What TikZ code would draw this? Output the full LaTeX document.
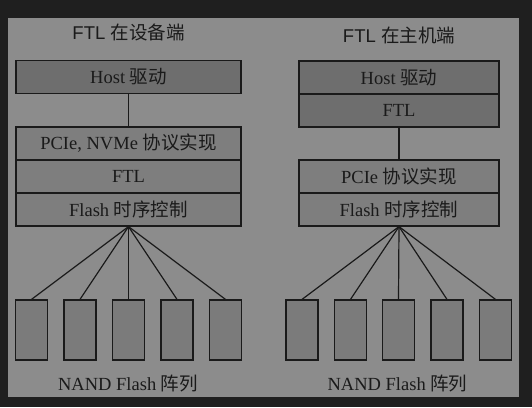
\documentclass[tikz,border=0pt]{standalone}
\usepackage{fontspec}
\setmainfont{Liberation Serif}
\newfontfamily\titlefont{Liberation Sans}
\newfontfamily\cjk{Noto Sans CJK SC}
\definecolor{bgdark}{HTML}{1F1F1F}
\definecolor{panel}{HTML}{8C8C8C}
\definecolor{boxfill}{HTML}{7E7E7E}
\definecolor{hostfill}{HTML}{6E6E6E}
\definecolor{chipfill}{HTML}{7B7B7B}
\definecolor{ink}{HTML}{1A1A1A}
\begin{document}
\begin{tikzpicture}[x=1pt,y=-1pt,
  txt/.style={font=\fontsize{18.5}{21}\selectfont, text=ink},
  layer/.style={draw=ink, line width=1.2pt, fill=boxfill, inner sep=0pt, minimum height=33pt, txt},
  hostlayer/.style={layer, fill=hostfill},
  chip/.style={draw=ink, line width=1.2pt, fill=chipfill, minimum width=32pt, minimum height=60pt, inner sep=0pt},
  conn/.style={draw=ink, line width=1.2pt},
  ttl/.style={font=\titlefont\fontsize{18.5}{21}\selectfont, text=ink, inner sep=0pt}]
\useasboundingbox (0,0) rectangle (532,407);
\fill[bgdark] (0,0) rectangle (532,407);
\fill[panel] (8,18) rectangle (519,397);

% titles
\node[ttl] (tl) at (128.5,32) {FTL {\cjk 在设备端}};
\node[ttl] (tr) at (399,35) {FTL {\cjk 在主机端}};

% left stack
\node[hostlayer, minimum width=225pt] (lhost) at (128.5,77) {Host {\cjk 驱动}};
\node[layer, minimum width=225pt] (lpcie) at (128.5,143.5) {PCIe, NVMe {\cjk 协议实现}};
\node[layer, minimum width=225pt] (lftl) at (128.5,176.5) {FTL};
\node[layer, minimum width=225pt] (lflash) at (128.5,209.5) {Flash {\cjk 时序控制}};
\draw[conn] (lhost.south) -- (lpcie.north);

% right stack
\node[hostlayer, minimum width=200pt] (rhost) at (399,77.5) {Host {\cjk 驱动}};
\node[hostlayer, minimum width=200pt] (rftl) at (399,110.5) {FTL};
\node[layer, minimum width=200pt] (rpcie) at (399,176.5) {PCIe {\cjk 协议实现}};
\node[layer, minimum width=200pt] (rflash) at (399,209.5) {Flash {\cjk 时序控制}};
\draw[conn] (rftl.south) -- (rpcie.north);

% left chips
\foreach \i/\x in {1/31.5,2/80,3/128.5,4/177,5/225.5}{
  \node[chip] (lc\i) at (\x,330) {};
  \draw[conn] (lflash.south) -- (lc\i.north);
}
% right chips
\foreach \i/\x in {1/302,2/350.5,3/398.5,4/447,5/495.5}{
  \node[chip] (rc\i) at (\x,330) {};
  \draw[conn] (rflash.south) -- (rc\i.north);
}

\node[txt, inner sep=0pt] (lnand) at (128,384) {NAND Flash {\cjk 阵列}};
\node[txt, inner sep=0pt] (rnand) at (397.5,384) {NAND Flash {\cjk 阵列}};
\end{tikzpicture}
\end{document}
